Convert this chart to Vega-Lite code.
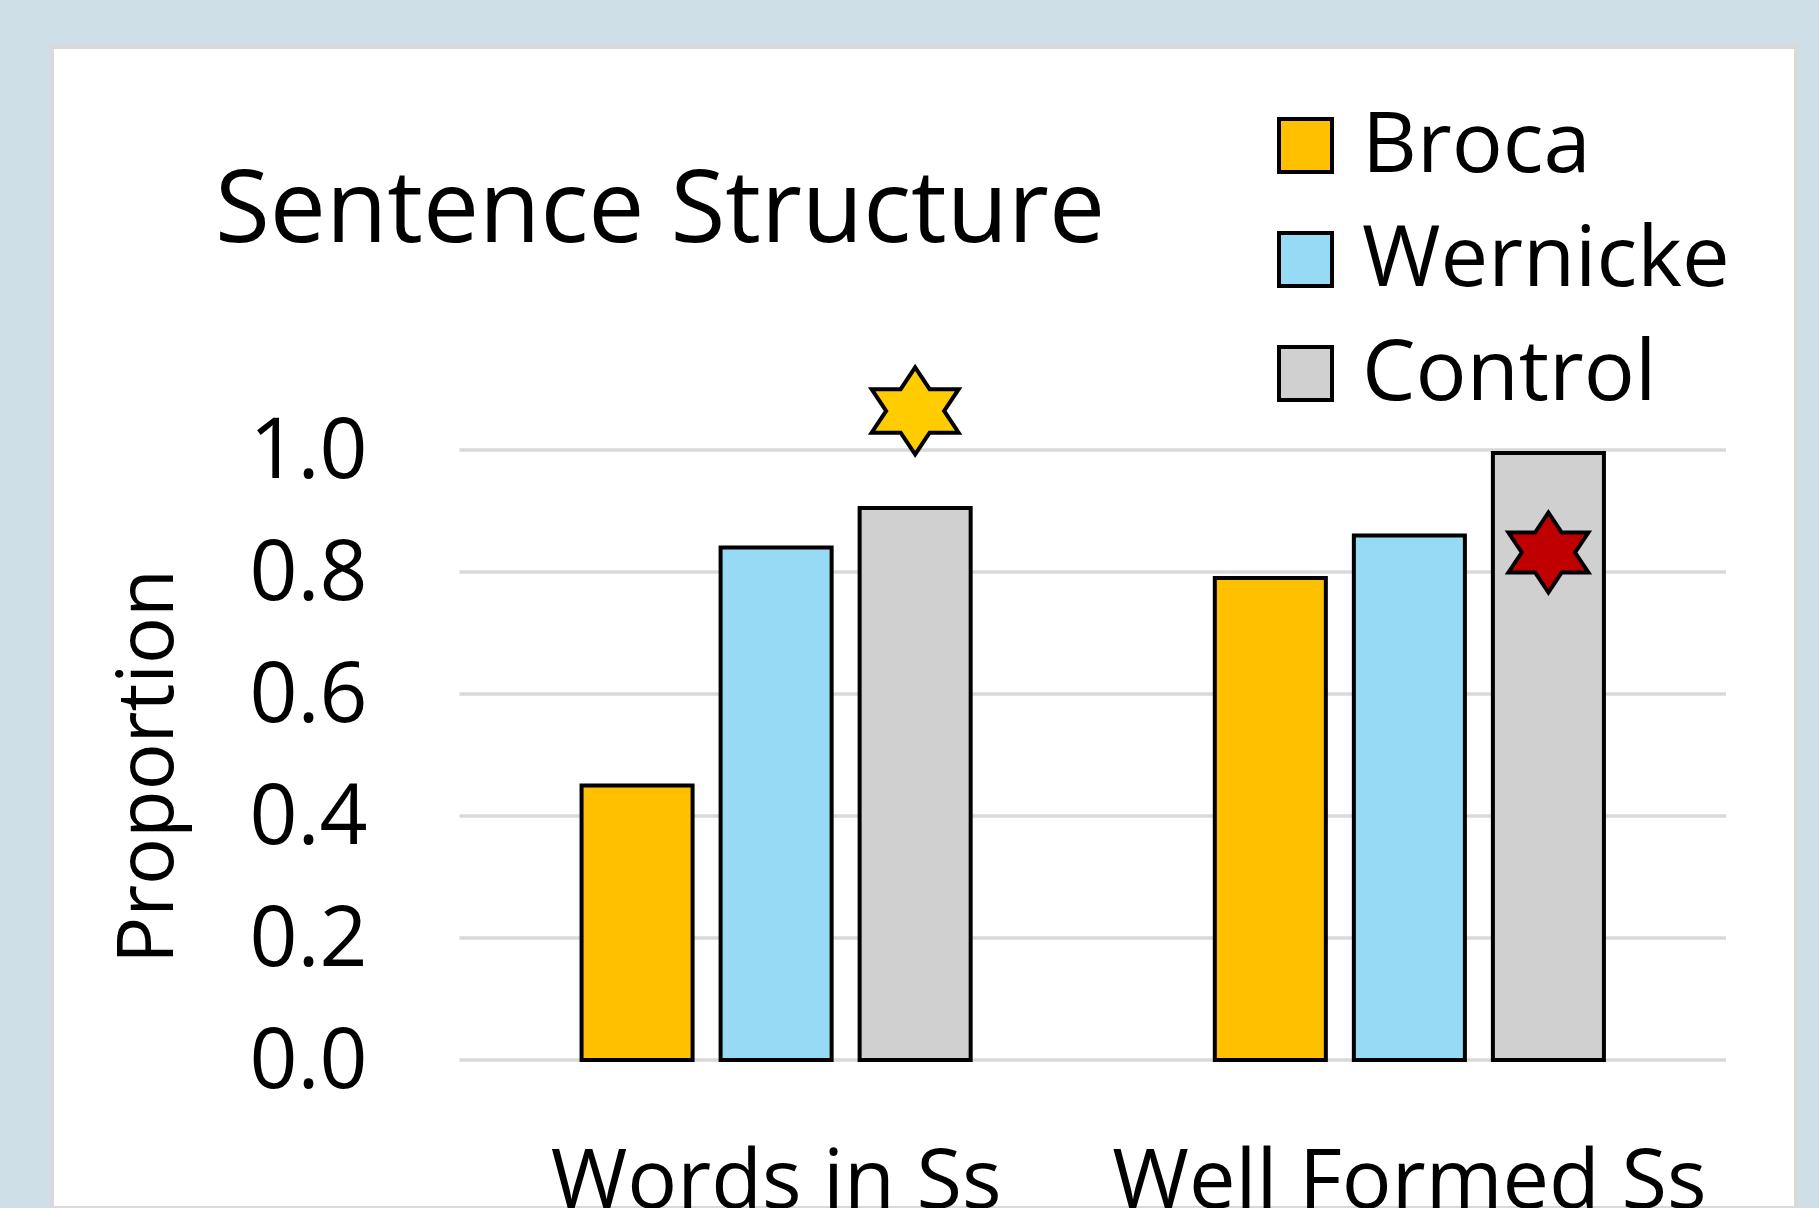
{
  "$schema": "https://vega.github.io/schema/vega-lite/v6.json",
  "width": 1744,
  "height": 1161,
  "autosize": {"type": "none"},
  "padding": {"left": 52, "top": 47, "right": 23, "bottom": 0},
  "background": "#CFDFE8",
  "config": {
    "view": {"fill": "white", "stroke": "#D9D9D9", "strokeWidth": 4},
    "font": "Open Sans"
  },
  "title": {
    "text": "Sentence Structure",
    "anchor": "start",
    "frame": "group",
    "font": "Open Sans",
    "fontSize": 100,
    "fontWeight": "normal",
    "color": "black",
    "baseline": "alphabetic",
    "offset": 0,
    "dx": 163,
    "dy": 295
  },
  "datasets": {
    "bars": [
      {"category": "Words in Ss", "group": "Broca", "value": 0.45},
      {"category": "Words in Ss", "group": "Wernicke", "value": 0.84},
      {"category": "Words in Ss", "group": "Control", "value": 0.905},
      {"category": "Well Formed Ss", "group": "Broca", "value": 0.79},
      {"category": "Well Formed Ss", "group": "Wernicke", "value": 0.86},
      {"category": "Well Formed Ss", "group": "Control", "value": 0.995}
    ],
    "grid": [
      {"v": 0.0, "xs": "Words in Ss", "xe": "Well Formed Ss"},
      {"v": 0.2, "xs": "Words in Ss", "xe": "Well Formed Ss"},
      {"v": 0.4, "xs": "Words in Ss", "xe": "Well Formed Ss"},
      {"v": 0.6, "xs": "Words in Ss", "xe": "Well Formed Ss"},
      {"v": 0.8, "xs": "Words in Ss", "xe": "Well Formed Ss"},
      {"v": 1.0, "xs": "Words in Ss", "xe": "Well Formed Ss"}
    ],
    "starYellow": [
      {"category": "Words in Ss", "group": "Control", "value": 1.064}
    ],
    "starRed": [
      {"category": "Well Formed Ss", "group": "Control", "value": 0.832}
    ]
  },
  "encoding": {
    "x": {"field": "category", "type": "nominal",
          "scale": {"domain": ["Words in Ss", "Well Formed Ss"], "paddingInner": 0, "paddingOuter": 0.377, "align": 0.8534},
          "axis": {
            "title": null, "offset": -67, "labelPadding": 0, "zindex": 1,
            "ticks": false, "domain": false, "grid": false,
            "labelAngle": 0, "labelBaseline": "top", "labelFont": "Open Sans",
            "labelFontSize": 83, "labelColor": "black", "labelLimit": 2000,
            "labelOverlap": false
          }},
    "y": {"field": "value", "type": "quantitative",
          "scale": {"domain": [-0.2426, 1.6607], "nice": false, "zero": false},
          "axis": {
            "values": [0, 0.2, 0.4, 0.6, 0.8, 1.0], "format": ".1f",
            "offset": -315, "labelPadding": 0, "zindex": 1,
            "ticks": false, "domain": false, "grid": false,
            "labelFont": "Open Sans", "labelFontSize": 84, "labelColor": "black",
            "labelBaseline": "middle", "labelOffset": 2, "labelOverlap": false,
            "labelLimit": 1000,
            "title": "Proportion", "titleFont": "Open Sans", "titleFontSize": 78,
            "titleFontWeight": "normal", "titleColor": "black",
            "titleAngle": -90, "titleAlign": "center", "titleBaseline": "alphabetic",
            "titleX": -195, "titleY": 719
          }}
  },
  "layer": [
    {
      "data": {"name": "grid"},
      "mark": {"type": "rule", "stroke": "#D9D9D9", "strokeWidth": 3.5},
      "encoding": {
        "x": {"field": "xe", "type": "nominal", "bandPosition": 1},
        "x2": {"field": "xs", "bandPosition": 0},
        "y": {"field": "v", "type": "quantitative"}
      }
    },
    {
      "data": {"name": "bars"},
      "mark": {"type": "bar", "stroke": "black", "strokeWidth": 4, "opacity": 1},
      "encoding": {
        "xOffset": {"field": "group", "type": "nominal", "sort": ["Broca", "Wernicke", "Control"],
                    "scale": {"domain": ["Broca", "Wernicke", "Control"], "paddingInner": 0.2014, "paddingOuter": 0.878}},
        "y2": {"datum": 0},
        "color": {"field": "group", "type": "nominal",
                  "scale": {"domain": ["Broca", "Wernicke", "Control"], "range": ["#FFC000", "#97DAF5", "#D0D0D0"]},
                  "legend": {
                    "title": null, "orient": "none", "legendX": 1211, "legendY": 56,
                    "direction": "vertical", "padding": 0,
                    "symbolType": "square", "symbolSize": 2809, "symbolStrokeColor": "black",
                    "symbolStrokeWidth": 4, "symbolOpacity": 1,
                    "labelFont": "Open Sans", "labelFontSize": 85, "labelColor": "black",
                    "labelOffset": 14, "rowPadding": 28, "labelLimit": 2000
                  }}
      }
    },
    {
      "data": {"name": "starYellow"},
      "mark": {"type": "point", "filled": true, "opacity": 1, "fill": "#FFCC00", "stroke": "black", "strokeWidth": 4,
               "size": 7569,
               "shape": "M0,-1L0.333,-0.5L1,-0.5L0.667,0L1,0.5L0.333,0.5L0,1L-0.333,0.5L-1,0.5L-0.667,0L-1,-0.5L-0.333,-0.5Z"},
      "encoding": {
        "xOffset": {"field": "group", "type": "nominal"}
      }
    },
    {
      "data": {"name": "starRed"},
      "mark": {"type": "point", "filled": true, "opacity": 1, "fill": "#C00000", "stroke": "black", "strokeWidth": 4,
               "size": 6400,
               "shape": "M0,-1L0.333,-0.5L1,-0.5L0.667,0L1,0.5L0.333,0.5L0,1L-0.333,0.5L-1,0.5L-0.667,0L-1,-0.5L-0.333,-0.5Z"},
      "encoding": {
        "xOffset": {"field": "group", "type": "nominal"}
      }
    }
  ]
}
